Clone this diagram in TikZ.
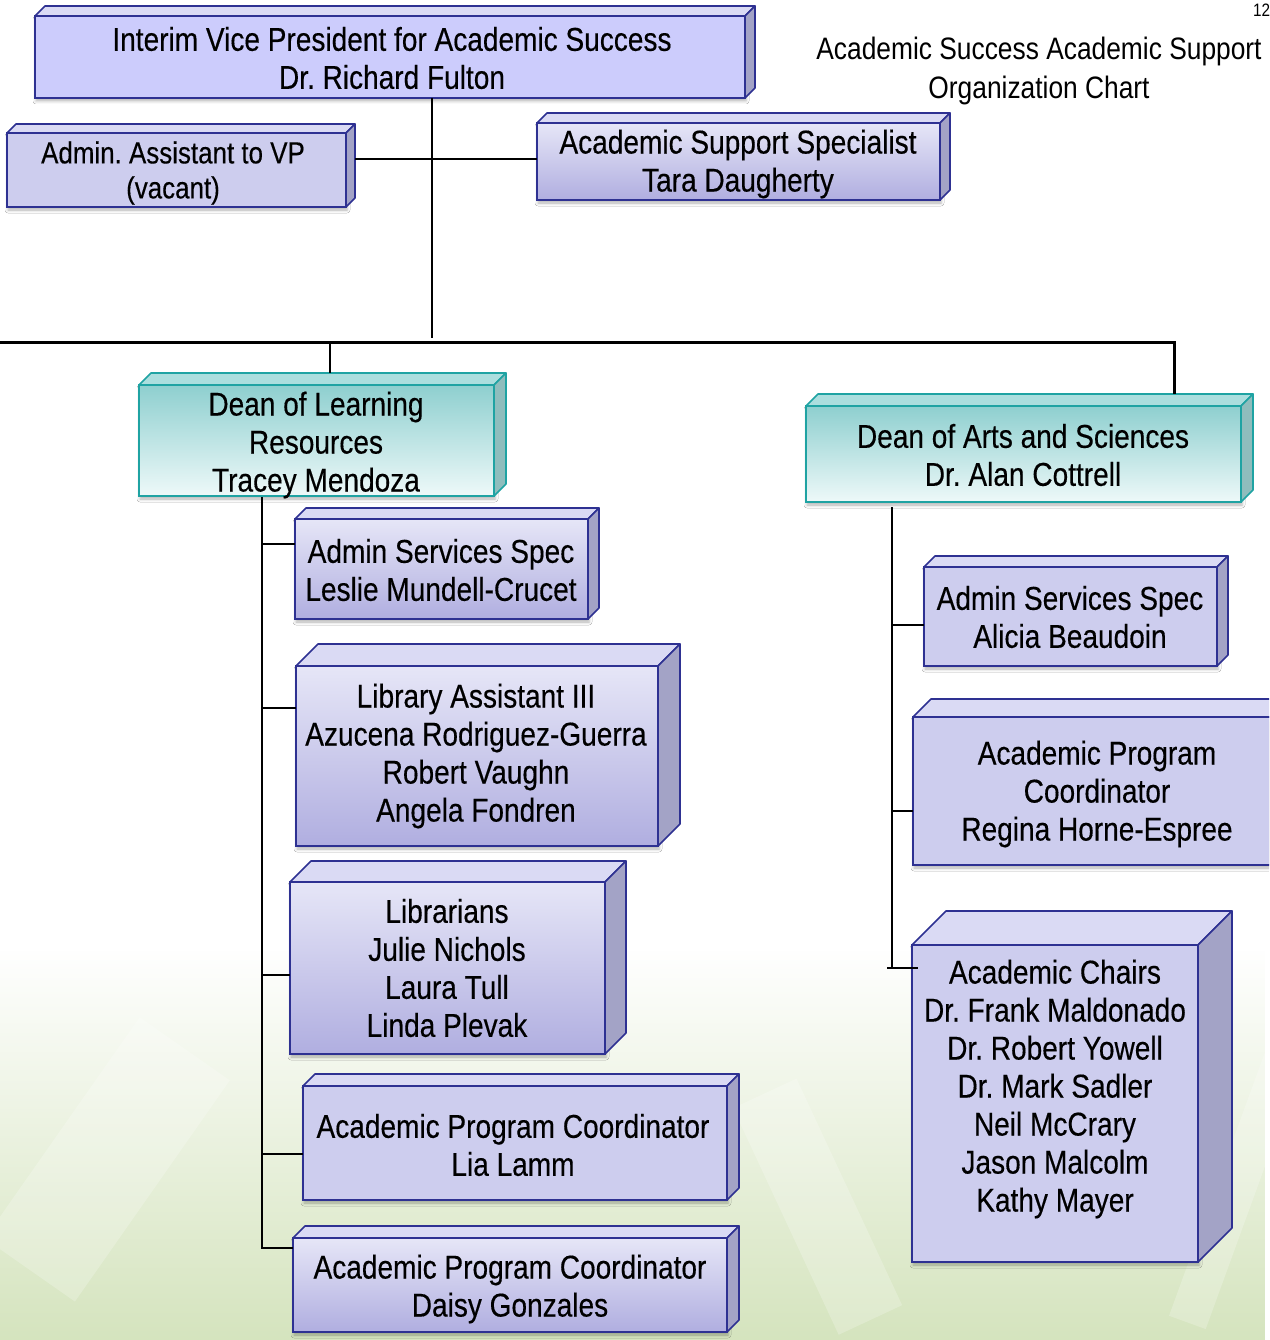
\documentclass[tikz,border=0pt]{standalone}
\usepackage{fontspec}
\setmainfont{Liberation Sans}[FakeStretch=0.85]
\newfontfamily\boxfont{Liberation Sans}[FakeStretch=0.85, FakeBold=0.35]
\usetikzlibrary{shadows.blur,fadings}
\frenchspacing

\definecolor{bBorder}{HTML}{2E3192}
\definecolor{bTopC}{HTML}{E6E6F7}
\definecolor{bBotC}{HTML}{B0AEE0}
\definecolor{bFlat}{HTML}{CDCDEE}
\definecolor{bVP}{HTML}{CCCCFC}
\definecolor{bLid}{HTML}{DADAF4}
\definecolor{bSide}{HTML}{A3A3C6}
\definecolor{tBorder}{HTML}{1FA3A3}
\definecolor{tTopC}{HTML}{8ECFCF}
\definecolor{tBotC}{HTML}{EEF9F9}
\definecolor{tLid}{HTML}{ABDEDE}
\definecolor{tSide}{HTML}{8FBDBD}
\definecolor{leafGreen}{HTML}{D5E4BE}

\tikzset{
  box/.style={outer sep=0pt, inner sep=0pt, line width=1.6pt,
    blur shadow={shadow xshift=1pt, shadow yshift=-3pt, shadow blur radius=3pt, shadow opacity=30}},
  grad front/.style={box, draw=bBorder, top color=bTopC, bottom color=bBotC},
  flat front/.style={box, draw=bBorder, fill=bFlat},
  vp front/.style={box, draw=bBorder, fill=bVP},
  teal front/.style={box, draw=tBorder, top color=tTopC, bottom color=tBotC},
  facet/.style={line width=1.6pt, line join=round},
  grad lid/.style={facet, draw=bBorder, fill=bLid},
  flat lid/.style={facet, draw=bBorder, fill=bLid},
  vp lid/.style={facet, draw=bBorder, fill=bLid},
  teal lid/.style={facet, draw=tBorder, fill=tLid},
  grad side/.style={facet, draw=bBorder, fill=bSide},
  flat side/.style={facet, draw=bBorder, fill=bSide},
  vp side/.style={facet, draw=bBorder, fill=bSide},
  teal side/.style={facet, draw=tBorder, fill=tSide},
  boxtext/.style={align=center, inner sep=0pt, font=\boxfont\fontsize{33}{38}\selectfont},
  smalltext/.style={align=center, inner sep=0pt, font=\boxfont\fontsize{30.5}{35}\selectfont},
  conn/.style={line width=2.2pt, black},
  busline/.style={line width=3pt, black},
}

% name, x1, y1, x2, y2 (front face, y downward), depth, kind
\newcommand\bevelbox[7]{%
  \node[#7 front, anchor=north west, minimum width={(#4-#2)*1pt},
        minimum height={(#5-#3)*1pt}] (#1) at (#2,#3) {};
  \filldraw[#7 lid] (#1.north west) -- ++(#6pt,#6pt)
     -- ([shift={(#6pt,#6pt)}]#1.north east) -- (#1.north east) -- cycle;
  \filldraw[#7 side] (#1.north east) -- ++(#6pt,#6pt)
     -- ([shift={(#6pt,#6pt)}]#1.south east) -- (#1.south east) -- cycle;
  \coordinate (#1-lid) at ([yshift=#6pt]#1.north);
  \coordinate (#1-side) at ([xshift=#6pt]#1.east);
}

\begin{document}
\begin{tikzpicture}[x=1pt,y=-1pt]
\useasboundingbox (0,0) rectangle (1269,1340);
\clip (0,0) rectangle (1269,1340);
\fill[white] (0,0) rectangle (1269,1340);

% soft green leaves behind the lower part of the chart
\fill[leafGreen, path fading=north] (0,950) rectangle (1269,1340);
\begin{scope}[opacity=0.22]
  \fill[white, rotate around={-35:(120,1150)}] (60,1030) rectangle (170,1300);
  \fill[white, rotate around={25:(820,1200)}] (780,1080) rectangle (850,1330);
  \fill[white, rotate around={-20:(1240,1150)}] (1230,1000) rectangle (1269,1330);
\end{scope}

% connector anchor points
\coordinate (busL) at (0,342);
\coordinate (busR) at (1174,342);
\coordinate (vpTap) at (432,338);
\coordinate (sideTap) at (432,159);
\coordinate (lrTap) at (330,342);
\coordinate (lTop) at (262,497);
\coordinate (lb1) at (262,544);
\coordinate (lb2) at (262,708);
\coordinate (lb3) at (262,975);
\coordinate (lb4) at (262,1154);
\coordinate (lb5) at (262,1248);
\coordinate (rTop) at (892,507);
\coordinate (rb1) at (892,625);
\coordinate (rb2) at (892,811);
\coordinate (rb3) at (892,968);
\coordinate (rb3a) at (887,968);

% boxes
\bevelbox{vp}{35}{16}{745}{98}{10}{vp}
\bevelbox{aa}{7}{133}{346}{207}{9}{flat}
\bevelbox{tara}{537}{123}{940}{200}{10}{grad}
\bevelbox{dLR}{139}{385}{494}{496}{12}{teal}
\bevelbox{dAS}{806}{406}{1241}{502}{12}{teal}
\bevelbox{leslie}{295}{519}{588}{619}{11}{grad}
\bevelbox{libasst}{296}{666}{658}{846}{22}{grad}
\bevelbox{librar}{290}{882}{605}{1054}{21}{grad}
\bevelbox{lia}{303}{1086}{727}{1200}{12}{flat}
\bevelbox{daisy}{293}{1238}{727}{1332}{12}{grad}
\bevelbox{alicia}{924}{567}{1217}{666}{11}{flat}
\bevelbox{regina}{913}{717}{1281}{865}{18}{flat}
\bevelbox{chairs}{912}{945}{1198}{1262}{34}{flat}

% connectors
\draw[conn] (vp.south -| vpTap) -- (vpTap);
\draw[conn] (sideTap -| aa-side) -- (sideTap -| tara.west);
\draw[busline] (busL) -- (busR) -- (busR |- dAS-lid);
\draw[conn] (lrTap) -- (lrTap |- dLR-lid);
\draw[conn] (lTop) -- (lb5) -- (lb5 -| daisy.west);
\draw[conn] (lb1) -- (lb1 -| leslie.west);
\draw[conn] (lb2) -- (lb2 -| libasst.west);
\draw[conn] (lb3) -- (lb3 -| librar.west);
\draw[conn] (lb4) -- (lb4 -| lia.west);
\draw[conn] (rTop) -- (rb3);
\draw[conn] (rb1) -- (rb1 -| alicia.west);
\draw[conn] (rb2) -- (rb2 -| regina.west);
\draw[conn] (rb3a) -- ([xshift=6pt]rb3 -| chairs.west);

% texts
\node[boxtext] (vpT) at (392,58) {Interim Vice President for Academic Success\\Dr. Richard Fulton};
\node[smalltext] (aaT) at (173,173) {Admin. Assistant to VP\\(vacant)};
\node[boxtext] (taraT) at (738,164) {Academic Support Specialist\\Tara Daugherty};
\node[boxtext] (dLRT) at (316,445) {Dean of Learning\\Resources\\Tracey Mendoza};
\node[boxtext] (dAST) at (1023,455) {Dean of Arts and Sciences\\Dr. Alan Cottrell};
\node[boxtext] (leslieT) at (441,570) {Admin Services Spec\\Leslie Mundell-Crucet};
\node[boxtext] (libasstT) at (476,756) {Library Assistant III\\Azucena Rodriguez-Guerra\\Robert Vaughn\\Angela Fondren};
\node[boxtext] (librarT) at (447,968) {Librarians\\Julie Nichols\\Laura Tull\\Linda Plevak};
\node[boxtext] (liaT) at (513,1145) {Academic Program Coordinator\\Lia Lamm};
\node[boxtext] (daisyT) at (510,1289) {Academic Program Coordinator\\Daisy Gonzales};
\node[boxtext] (aliciaT) at (1070,617) {Admin Services Spec\\Alicia Beaudoin};
\node[boxtext] (reginaT) at (1097,794) {Academic Program\\Coordinator\\Regina Horne-Espree};
\node[boxtext] (chairsT) at (1055,1089) {Academic Chairs\\Dr. Frank Maldonado\\Dr. Robert Yowell\\Dr. Mark Sadler\\Neil McCrary\\Jason Malcolm\\Kathy Mayer};

% heading and page number
\node[align=center, inner sep=0pt, font=\fontsize{31}{39}\selectfont] (title) at (1039,71)
  {Academic Success Academic Support\\Organization Chart};
\node[inner sep=0pt, font=\fontsize{18}{20}\selectfont, anchor=west] (pageno) at (1253,10) {12};
\end{tikzpicture}
\end{document}
